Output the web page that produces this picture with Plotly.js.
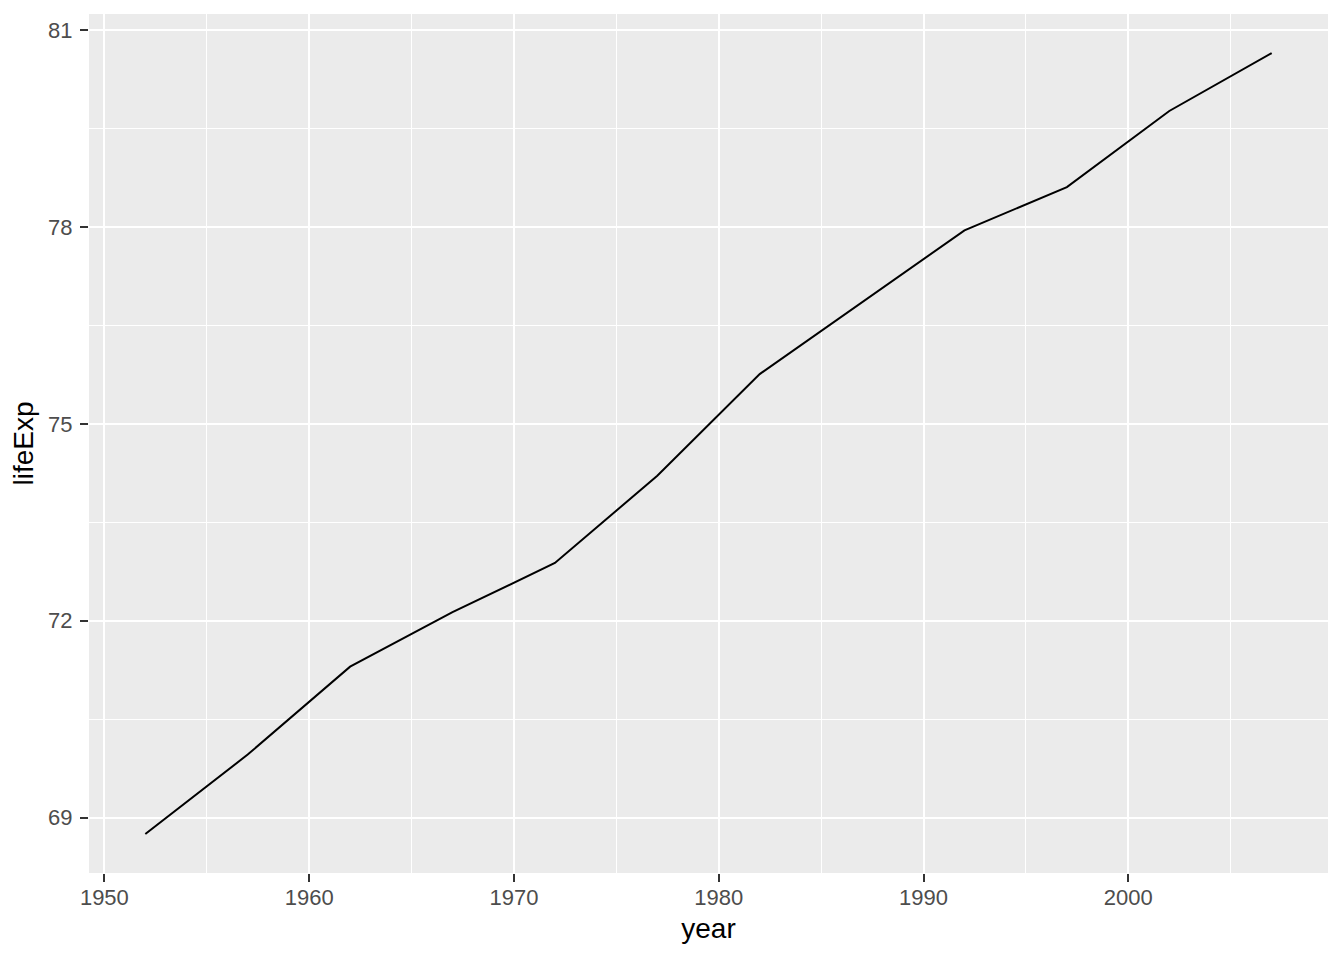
<!DOCTYPE html>
<html>
<head>
<meta charset="utf-8">
<script src="https://cdn.plot.ly/plotly-3.0.1.min.js"></script>
<style>html,body{margin:0;padding:0;background:#fff;}#chart{width:1344px;height:960px;}</style>
</head>
<body>
<div id="chart"></div>
<script>
const years = [1952, 1957, 1962, 1967, 1972, 1977, 1982, 1987, 1992, 1997, 2002, 2007];
const lifeExp = [68.75, 69.96, 71.3, 72.13, 72.88, 74.21, 75.76, 76.86, 77.95, 78.61, 79.77, 80.653];
const xTicks = [1950, 1960, 1970, 1980, 1990, 2000];
const yTicks = [69, 72, 75, 78, 81];

const xPad = (Math.max(...years) - Math.min(...years)) * 0.05;
const yPad = (Math.max(...lifeExp) - Math.min(...lifeExp)) * 0.05;

const font = 'Liberation Sans, Arial, sans-serif';
const trace = {
  x: years, y: lifeExp, type: 'scatter', mode: 'lines',
  line: {color: '#000000', width: 2}, hoverinfo: 'skip'
};
const axisCommon = {
  showgrid: true, gridcolor: '#FFFFFF', gridwidth: 2,
  zeroline: false, showline: false,
  ticks: 'outside', ticklen: 8, tickwidth: 2, tickcolor: '#333333',
  tickfont: {family: font, size: 22, color: '#4D4D4D'},
  minor: {showgrid: true, gridcolor: '#FFFFFF', gridwidth: 1, ticks: ''}
};
const layout = {
  width: 1344, height: 960,
  margin: {l: 89, r: 16, t: 14, b: 87},
  paper_bgcolor: '#FFFFFF', plot_bgcolor: '#EBEBEB',
  showlegend: false,
  xaxis: Object.assign({}, axisCommon, {
    range: [Math.min(...years) - xPad, Math.max(...years) + xPad],
    tickmode: 'array', tickvals: xTicks, ticktext: xTicks.map(String),
    ticklabelstandoff: -3,
    minor: Object.assign({}, axisCommon.minor, {tickmode: 'array', tickvals: [1955, 1965, 1975, 1985, 1995, 2005]}),
    title: {text: 'year', font: {family: font, size: 28, color: '#000000'}, standoff: 8}
  }),
  yaxis: Object.assign({}, axisCommon, {
    range: [Math.min(...lifeExp) - yPad, Math.max(...lifeExp) + yPad],
    tickmode: 'array', tickvals: yTicks, ticktext: yTicks.map(String),
    ticklabelstandoff: 3,
    minor: Object.assign({}, axisCommon.minor, {tickmode: 'array', tickvals: [70.5, 73.5, 76.5, 79.5]}),
    title: {text: 'lifeExp', font: {family: font, size: 28, color: '#000000'}, standoff: 6}
  })
};
Plotly.newPlot('chart', [trace], layout, {displayModeBar: false, staticPlot: true});
</script>
</body>
</html>
